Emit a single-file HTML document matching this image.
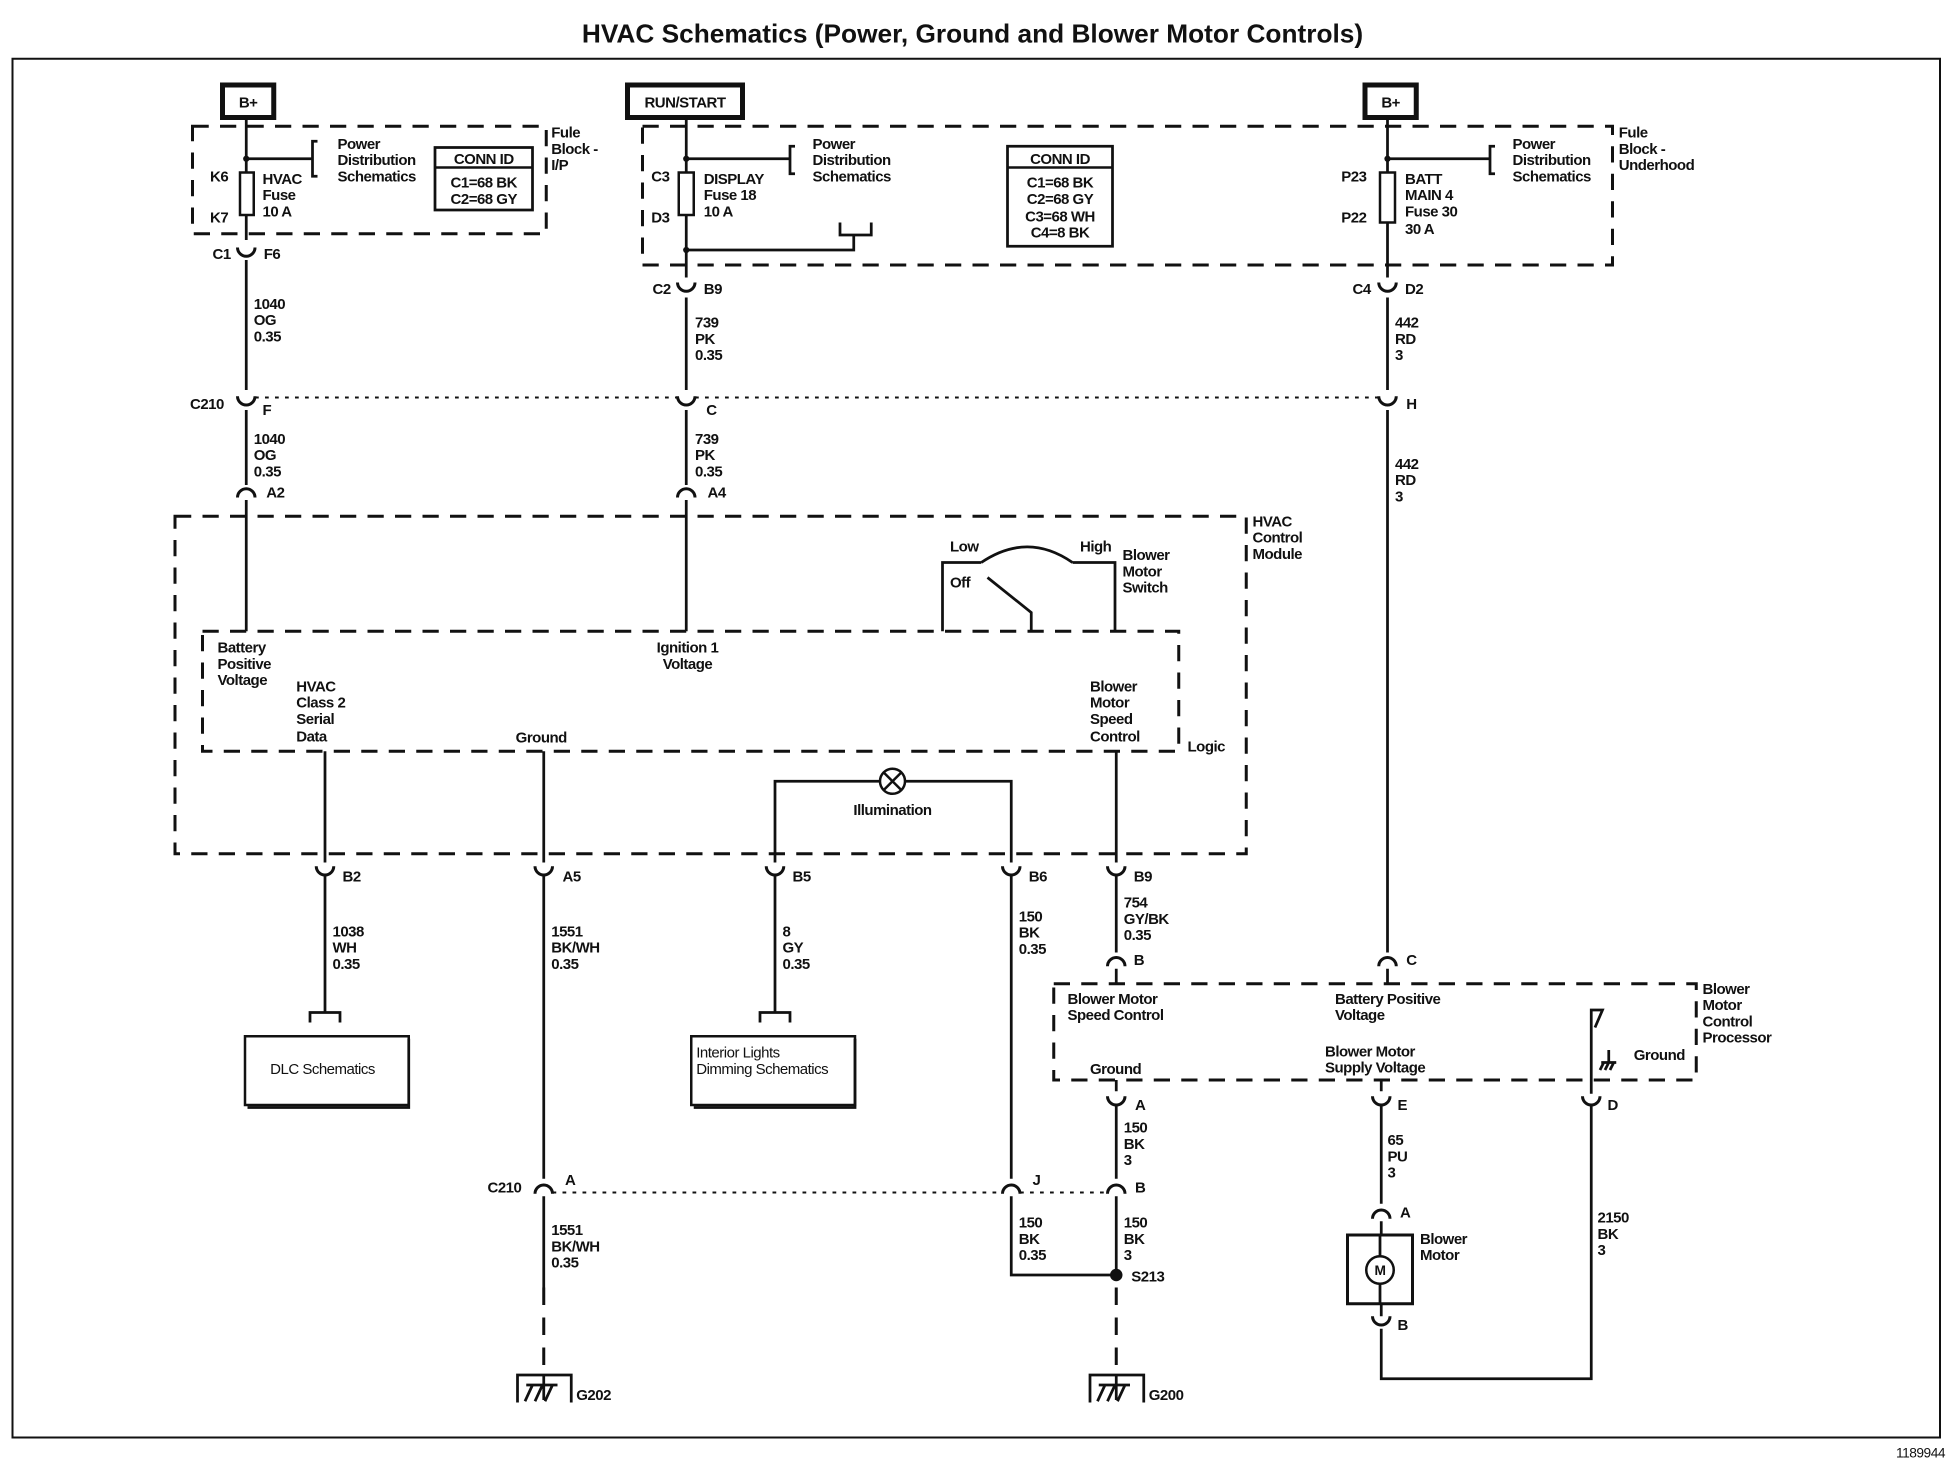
<!DOCTYPE html>
<html><head><meta charset="utf-8"><style>
html,body{margin:0;padding:0;background:#fff;}
svg{display:block}
text{font-family:"Liberation Sans",Arial,sans-serif;font-size:12px;font-weight:bold;fill:#111;letter-spacing:-0.4px}
.w{stroke:#111;stroke-width:2.2;fill:none}
.d{stroke:#111;stroke-width:2.4;fill:none;stroke-dasharray:13,9}
.dot{stroke:#111;stroke-width:1.6;fill:none;stroke-dasharray:3,5}
</style></head><body>
<svg width="1960" height="1472" viewBox="0 0 1568 1177.6" xmlns="http://www.w3.org/2000/svg">
<defs>
<path id="cup" d="M-7,-5 A7,7 0 0 0 7,-5" stroke="#111" stroke-width="2.4" fill="none"/>
<path id="arch" d="M-7,5 A7,7 0 0 1 7,5" stroke="#111" stroke-width="2.4" fill="none"/>
</defs>
<text x="778" y="34" text-anchor="middle" style="font-size:21px;letter-spacing:0">HVAC Schematics (Power, Ground and Blower Motor Controls)</text>
<rect x="10" y="47" width="1542" height="1103" fill="none" stroke="#111" stroke-width="1.6"/>
<text x="1556" y="1166" text-anchor="end" style="font-size:11px;font-weight:normal">1189944</text>

<!-- top boxes -->
<rect x="178" y="68" width="41" height="26" fill="none" stroke="#111" stroke-width="4"/><text x="198.5" y="86" text-anchor="middle">B+</text>
<rect x="502" y="68" width="92" height="26" fill="none" stroke="#111" stroke-width="4"/><text x="548" y="86" text-anchor="middle">RUN/START</text>
<rect x="1092" y="68" width="41" height="26" fill="none" stroke="#111" stroke-width="4"/><text x="1112.5" y="86" text-anchor="middle">B+</text>

<rect x="154" y="101" width="283" height="86" class="d"/>
<text x="441" y="110">Fule</text><text x="441" y="123">Block -</text><text x="441" y="136">I/P</text>
<rect x="514" y="101" width="776" height="111" class="d"/>
<text x="1295" y="110">Fule</text><text x="1295" y="123">Block -</text><text x="1295" y="136">Underhood</text>

<!-- left fuse -->
<path class="w" d="M197,94 V192 M197,208 V312 M197,328 V388"/>
<rect x="192" y="138" width="11" height="34" fill="#fff" stroke="#111" stroke-width="2"/>
<circle cx="197" cy="127" r="2.5" fill="#111"/>
<path class="w" d="M197,127 H250 M254,113 H250 V141 H254"/>
<text x="168" y="145">K6</text><text x="168" y="178">K7</text>
<text x="210" y="147">HVAC</text><text x="210" y="160">Fuse</text><text x="210" y="173">10 A</text>
<text x="270" y="119">Power</text><text x="270" y="132">Distribution</text><text x="270" y="145">Schematics</text>
<rect x="348" y="118" width="78" height="50" fill="none" stroke="#111" stroke-width="2.2"/><line x1="348" y1="134" x2="426" y2="134" stroke="#111" stroke-width="2"/>
<text x="387" y="131" text-anchor="middle">CONN ID</text><text x="387" y="150" text-anchor="middle">C1=68 BK</text><text x="387" y="163" text-anchor="middle">C2=68 GY</text>
<use href="#cup" x="197" y="203"/><text x="170" y="207">C1</text><text x="211" y="207">F6</text>
<text x="203" y="247">1040</text><text x="203" y="260">OG</text><text x="203" y="273">0.35</text>

<!-- center fuse -->
<path class="w" d="M549,94 V222 M549,238 V312 M549,328 V388"/>
<rect x="543" y="138" width="12" height="34" fill="#fff" stroke="#111" stroke-width="2"/>
<circle cx="549" cy="127" r="2.5" fill="#111"/>
<path class="w" d="M549,127 H632 M636,117 H632 V139 H636"/>
<circle cx="549" cy="200" r="2.5" fill="#111"/>
<path class="w" d="M549,200 H683 V188 M672,178 V188 H697 V178"/>
<text x="521" y="145">C3</text><text x="521" y="178">D3</text>
<text x="563" y="147">DISPLAY</text><text x="563" y="160">Fuse 18</text><text x="563" y="173">10 A</text>
<text x="650" y="119">Power</text><text x="650" y="132">Distribution</text><text x="650" y="145">Schematics</text>
<rect x="806" y="117" width="84" height="80" fill="none" stroke="#111" stroke-width="2.2"/><line x1="806" y1="134" x2="890" y2="134" stroke="#111" stroke-width="2"/>
<text x="848" y="131" text-anchor="middle">CONN ID</text><text x="848" y="150" text-anchor="middle">C1=68 BK</text><text x="848" y="163" text-anchor="middle">C2=68 GY</text><text x="848" y="177" text-anchor="middle">C3=68 WH</text><text x="848" y="190" text-anchor="middle">C4=8 BK</text>
<use href="#cup" x="549" y="231"/><text x="522" y="235">C2</text><text x="563" y="235">B9</text>
<text x="556" y="262">739</text><text x="556" y="275">PK</text><text x="556" y="288">0.35</text>

<!-- right fuse -->
<path class="w" d="M1110,94 V222 M1110,238 V312 M1110,328 V762"/>
<rect x="1104" y="138" width="12" height="40" fill="#fff" stroke="#111" stroke-width="2"/>
<circle cx="1110" cy="127" r="2.5" fill="#111"/>
<path class="w" d="M1110,127 H1192 M1196,117 H1192 V139 H1196"/>
<text x="1073" y="145">P23</text><text x="1073" y="178">P22</text>
<text x="1124" y="147">BATT</text><text x="1124" y="160">MAIN 4</text><text x="1124" y="173">Fuse 30</text><text x="1124" y="187">30 A</text>
<text x="1210" y="119">Power</text><text x="1210" y="132">Distribution</text><text x="1210" y="145">Schematics</text>
<use href="#cup" x="1110" y="231"/><text x="1082" y="235">C4</text><text x="1124" y="235">D2</text>
<text x="1116" y="262">442</text><text x="1116" y="275">RD</text><text x="1116" y="288">3</text>

<!-- C210 upper -->
<path class="dot" d="M204,318 H542 M556,318 H1103"/>
<use href="#cup" x="197" y="322"/><use href="#cup" x="549" y="322"/><use href="#cup" x="1110" y="322"/>
<text x="152" y="327">C210</text><text x="210" y="332">F</text><text x="565" y="332">C</text><text x="1125" y="327">H</text>
<text x="203" y="355">1040</text><text x="203" y="368">OG</text><text x="203" y="381">0.35</text>
<text x="556" y="355">739</text><text x="556" y="368">PK</text><text x="556" y="381">0.35</text>
<text x="1116" y="375">442</text><text x="1116" y="388">RD</text><text x="1116" y="401">3</text>
<use href="#arch" x="197" y="393"/><use href="#arch" x="549" y="393"/>
<text x="213" y="398">A2</text><text x="566" y="398">A4</text>
<path class="w" d="M197,400 V505 M549,400 V505"/>

<!-- HVAC module -->
<rect x="140" y="413" width="857" height="270" class="d"/>
<text x="1002" y="421">HVAC</text><text x="1002" y="434">Control</text><text x="1002" y="447">Module</text>
<rect x="162" y="505" width="781" height="96" class="d"/>
<text x="950" y="601">Logic</text>
<path class="w" d="M754,505 V450 H785 M785,450 Q822,425 858,450 M858,450 H892 V505 M790,462 L825,490 V505"/>
<text x="760" y="441">Low</text><text x="864" y="441">High</text><text x="760" y="470">Off</text>
<text x="898" y="448">Blower</text><text x="898" y="461">Motor</text><text x="898" y="474">Switch</text>
<text x="174" y="522">Battery</text><text x="174" y="535">Positive</text><text x="174" y="548">Voltage</text>
<text x="550" y="522" text-anchor="middle">Ignition 1</text><text x="550" y="535" text-anchor="middle">Voltage</text>
<text x="237" y="553">HVAC</text><text x="237" y="566">Class 2</text><text x="237" y="579">Serial</text><text x="237" y="593">Data</text>
<text x="433" y="594" text-anchor="middle">Ground</text>
<text x="872" y="553">Blower</text><text x="872" y="566">Motor</text><text x="872" y="579">Speed</text><text x="872" y="593">Control</text>

<path class="w" d="M260,601 V690 M435,601 V690 M893,601 V690 M620,690 V625 H704 M724,625 H809 V690"/>
<circle cx="714" cy="625" r="10" fill="#fff" stroke="#111" stroke-width="2"/>
<path d="M707,618 L721,632 M721,618 L707,632" stroke="#111" stroke-width="2"/>
<text x="714" y="652" text-anchor="middle">Illumination</text>

<use href="#cup" x="260" y="698"/><use href="#cup" x="435" y="698"/><use href="#cup" x="620" y="698"/><use href="#cup" x="809" y="698"/><use href="#cup" x="893" y="698"/>
<text x="274" y="705">B2</text><text x="450" y="705">A5</text><text x="634" y="705">B5</text><text x="823" y="705">B6</text><text x="907" y="705">B9</text>
<path class="w" d="M260,700 V810 M248,818 V810 H272 V818 M435,700 V943 M620,700 V810 M608,818 V810 H632 V818 M809,700 V943 M893,700 V762"/>
<text x="266" y="749">1038</text><text x="266" y="762">WH</text><text x="266" y="775">0.35</text>
<text x="441" y="749">1551</text><text x="441" y="762">BK/WH</text><text x="441" y="775">0.35</text>
<text x="626" y="749">8</text><text x="626" y="762">GY</text><text x="626" y="775">0.35</text>
<text x="815" y="737">150</text><text x="815" y="750">BK</text><text x="815" y="763">0.35</text>
<text x="899" y="726">754</text><text x="899" y="739">GY/BK</text><text x="899" y="752">0.35</text>

<rect x="196" y="829" width="131" height="55" fill="none" stroke="#111" stroke-width="2"/><path class="w" d="M327,831 V886 H198"/>
<text x="258" y="859" text-anchor="middle" style="font-weight:normal">DLC Schematics</text>
<rect x="553" y="829" width="131" height="55" fill="none" stroke="#111" stroke-width="2"/><path class="w" d="M684,831 V886 H555"/>
<text x="557" y="846" style="font-weight:normal">Interior Lights</text><text x="557" y="859" style="font-weight:normal">Dimming Schematics</text>

<!-- Blower motor control processor -->
<use href="#arch" x="893" y="768"/><use href="#arch" x="1110" y="768"/>
<text x="907" y="772">B</text><text x="1125" y="772">C</text>
<path class="w" d="M893,775 V787 M1110,775 V787"/>
<rect x="843" y="787" width="514" height="77" class="d"/>
<text x="1362" y="795">Blower</text><text x="1362" y="808">Motor</text><text x="1362" y="821">Control</text><text x="1362" y="834">Processor</text>
<text x="854" y="803">Blower Motor</text><text x="854" y="816">Speed Control</text>
<text x="1068" y="803">Battery Positive</text><text x="1068" y="816">Voltage</text>
<text x="872" y="859">Ground</text>
<text x="1060" y="845">Blower Motor</text><text x="1060" y="858">Supply Voltage</text>
<text x="1307" y="848">Ground</text>
<path class="w" d="M1273,875 V808 H1282 L1276,822 M1287,840 V850 M1281,850 H1293 M1283,850 L1280,856 M1287,850 L1284,856 M1291,850 L1288,856"/>
<path class="w" d="M893,864 V873 M1105,864 V873"/>
<use href="#cup" x="893" y="882"/><use href="#cup" x="1105" y="882"/><use href="#cup" x="1273" y="882"/>
<text x="908" y="888">A</text><text x="1118" y="888">E</text><text x="1286" y="888">D</text>
<path class="w" d="M893,884 V943 M893,957 V1020 M1105,884 V963 M1273,884 V1103 H1105 V1063"/>
<text x="899" y="906">150</text><text x="899" y="919">BK</text><text x="899" y="932">3</text>
<text x="1110" y="916">65</text><text x="1110" y="929">PU</text><text x="1110" y="942">3</text>
<text x="1278" y="978">2150</text><text x="1278" y="991">BK</text><text x="1278" y="1004">3</text>
<use href="#arch" x="1105" y="970"/><text x="1120" y="974">A</text>
<path class="w" d="M1105,977 V988"/>
<rect x="1078" y="988" width="52" height="55" fill="none" stroke="#111" stroke-width="2.4"/>
<circle cx="1104" cy="1016" r="11" fill="#fff" stroke="#111" stroke-width="2"/><text x="1104" y="1020" text-anchor="middle" style="font-size:11px">M</text>
<path class="w" d="M1104,988 V1005 M1104,1027 V1043 M1105,1043 V1053"/>
<text x="1136" y="995">Blower</text><text x="1136" y="1008">Motor</text>
<use href="#cup" x="1105" y="1058"/><text x="1118" y="1064">B</text>

<!-- C210 lower -->
<path class="dot" d="M442,954 H802 M816,954 H886"/>
<use href="#arch" x="435" y="950"/><use href="#arch" x="809" y="950"/><use href="#arch" x="893" y="950"/>
<text x="390" y="954">C210</text><text x="452" y="948">A</text><text x="826" y="948">J</text><text x="908" y="954">B</text>
<path class="w" d="M435,957 V1030 M809,957 V1020 H893"/>
<circle cx="893" cy="1020" r="5" fill="#111"/><text x="905" y="1025">S213</text>
<text x="441" y="988">1551</text><text x="441" y="1001">BK/WH</text><text x="441" y="1014">0.35</text>
<text x="815" y="982">150</text><text x="815" y="995">BK</text><text x="815" y="1008">0.35</text>
<text x="899" y="982">150</text><text x="899" y="995">BK</text><text x="899" y="1008">3</text>
<path class="d" d="M435,1030 V1100 M893,1030 V1100" style="stroke-dasharray:14,10"/>
<path class="w" d="M435,1100 V1120 M414,1122 V1100 H457 V1122 M420,1121 L426,1108 M428,1121 L434,1108 M436,1121 L442,1108 M421,1108 H446"/>
<path class="w" d="M893,1100 V1120 M872,1122 V1100 H915 V1122 M878,1121 L884,1108 M886,1121 L892,1108 M894,1121 L900,1108 M879,1108 H904"/>
<text x="461" y="1120">G202</text><text x="919" y="1120">G200</text>
</svg>
</body></html>
